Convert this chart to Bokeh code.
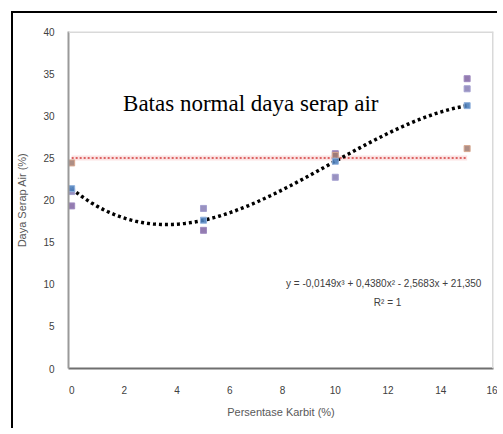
import numpy as np
from bokeh.plotting import figure
from bokeh.models import Label, FixedTicker, Span, InlineStyleSheet
from bokeh.embed import file_html
from bokeh.resources import INLINE

# ---- data ----
kadar_karbit = [0, 5, 10, 15]
sampel_a = [19.3, 16.4, 25.5, 34.4]     # purple
sampel_b = [21.0, 19.0, 22.7, 33.2]     # violet
rata_rata = [21.35, 17.6, 24.6, 31.2]   # blue (trend series)
batas_x = [0, 10, 15]
batas_y = [24.4, 25.3, 26.1]            # orange markers near the limit
batas_normal = [25, 25, 25, 25]         # normal limit line

x_ticks = [0, 2, 4, 6, 8, 10, 12, 14, 16]
y_ticks = [0, 5, 10, 15, 20, 25, 30, 35, 40]

p = figure(width=486, height=417, output_backend="svg", toolbar_location=None,
           x_range=(-0.12, 16), y_range=(0, 40),
           min_border_left=54, min_border_right=6, min_border_top=18, min_border_bottom=62)
p.stylesheets = [InlineStyleSheet(css=":host { margin-left: 11px; margin-top: 11px; "
                                      "border-top: 2px solid black; border-left: 2px solid black; "
                                      "border-right: none; border-bottom: none; }")]

p.background_fill_color = "white"
p.border_fill_color = "white"
p.outline_line_color = None
p.xgrid.visible = False
p.ygrid.visible = False

for ax in (p.xaxis[0], p.yaxis[0]):
    ax.major_tick_line_color = None
    ax.minor_tick_line_color = None
    ax.major_label_text_font = "Liberation Sans"
    ax.major_label_text_font_size = "10px"
    ax.major_label_text_color = "#404040"
    ax.axis_label_text_font = "Liberation Sans"
    ax.axis_label_text_font_style = "normal"
    ax.axis_label_text_color = "#595959"
    ax.axis_label_text_font_size = "11px"

p.xaxis.ticker = FixedTicker(ticks=x_ticks)
p.yaxis.ticker = FixedTicker(ticks=y_ticks)
p.xaxis.axis_line_color = "#6f6f6f"
p.xaxis.axis_line_width = 2
p.yaxis.axis_line_color = "#9a9a9a"
p.yaxis.axis_line_width = 2
p.xaxis.major_label_standoff = 11
p.yaxis.major_label_standoff = 8
p.xaxis.axis_label = "Persentase Karbit (%)"
p.yaxis.axis_label = "Daya Serap Air (%)"
p.xaxis.axis_label_standoff = 9
p.yaxis.axis_label_standoff = 12

# light frame on top and right
p.add_layout(Span(location=40, dimension="width", line_color="#d9d9d9", line_width=3))
p.add_layout(Span(location=16, dimension="height", line_color="#d9d9d9", line_width=3))

# normal limit line
p.line(kadar_karbit, batas_normal, line_color="#f4b0b0", line_width=5, line_alpha=0.35)
p.line(kadar_karbit, batas_normal, line_color="#d23a3a", line_width=1.5, line_dash="2 2")

# trend line (cubic through the mean series)
coef = np.polyfit(kadar_karbit, rata_rata, 3)
xs = np.linspace(kadar_karbit[0], kadar_karbit[-1], 200)
p.line(xs, np.polyval(coef, xs), line_color="black", line_width=3.5, line_dash="3 3")

# markers
p.scatter(kadar_karbit, sampel_a, marker="square", size=6, fill_color="#8064a2",
          line_color="#a08cc0", fill_alpha=0.85)
p.scatter(kadar_karbit, sampel_b, marker="square", size=6, fill_color="#7f76b0",
          line_color="#a4a0d0", fill_alpha=0.8)
p.scatter(batas_x, batas_y, marker="square", size=6, fill_color="#a07a70",
          line_color="#d8a890", fill_alpha=0.85)
p.scatter(kadar_karbit, rata_rata, marker="square", size=6, fill_color="#4f81bd",
          line_color="#8fb0dc", fill_alpha=0.9)

# annotations
p.add_layout(Label(x=1.95, y=31.4, text="Batas normal daya serap air",
                   text_font="Liberation Serif", text_font_size="23px",
                   text_color="black", text_baseline="middle", text_align="left"))
eq = "y = %.4fx³ + %.4fx² %s %.4fx + %.3f" % (coef[0], coef[1],
                                             "-" if coef[2] < 0 else "+", abs(coef[2]), coef[3])
p.add_layout(Label(x=8.13, y=10.1, text=eq.replace(".", ","),
                   text_font="Liberation Sans", text_font_size="10px",
                   text_color="#404040", text_baseline="middle", text_align="left"))
p.add_layout(Label(x=11.46, y=7.8, text="R² = 1",
                   text_font="Liberation Sans", text_font_size="10px",
                   text_color="#404040", text_baseline="middle", text_align="left"))

open("out.html", "w").write(file_html(p, INLINE))
